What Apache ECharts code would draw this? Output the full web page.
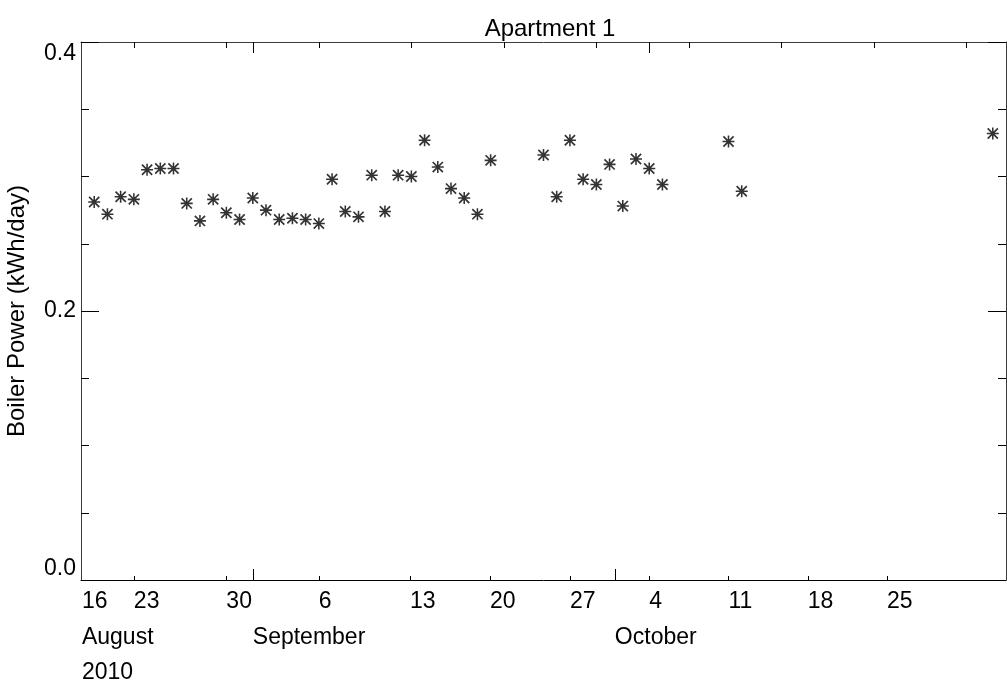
<!DOCTYPE html>
<html>
<head>
<meta charset="utf-8">
<title>Apartment 1</title>
<script src="https://cdn.jsdelivr.net/npm/echarts@6/dist/echarts.min.js"></script>
<style>
  html, body { margin: 0; padding: 0; background: #fff; }
  #chart { width: 1007px; height: 687px; }
</style>
</head>
<body>
<div id="chart"></div>
<script>
// Day numbers count from 1 August 2010 (1 Aug = 1, 1 Sep = 32, 1 Oct = 62).
const dayNumbers = [
  20, 21, 22, 23, 24, 25, 26, 27, 28, 29, 30, 31, 32, 33, 34, 35,
  36, 37, 38, 39, 40, 41, 42, 43, 44, 45, 46, 47, 48, 49, 50,
  54, 55, 56, 57, 58, 59, 60, 61, 62, 63,
  68, 69,
  88
];
// Daily boiler power, kWh/day
const boilerPower = [
  0.281, 0.272, 0.285, 0.283, 0.305, 0.306, 0.306, 0.280, 0.267, 0.283, 0.273, 0.268, 0.284, 0.275, 0.268, 0.269,
  0.268, 0.265, 0.298, 0.274, 0.270, 0.301, 0.274, 0.301, 0.300, 0.327, 0.307, 0.291, 0.284, 0.272, 0.312,
  0.316, 0.285, 0.327, 0.298, 0.294, 0.309, 0.278, 0.313, 0.306, 0.294,
  0.326, 0.289,
  0.332
];

// Lower date axis: day labels, month row and year row
const dayLabelDays   = [19.07, 23, 30, 37, 43.9, 49.95, 56, 62, 68, 74, 80];
const dayLabels      = ['16', '23', '30', '6', '13', '20', '27', '4', '11', '18', '25'];
const dayTickDays    = [23, 30, 37, 43.9, 49.95, 56, 62, 68, 74, 80];
const monthTickDays  = [32, 59.4];
const monthLabelDays = [19.07, 32, 59.4];
const monthLabels    = ['August', 'September', 'October'];
const yearLabelDays  = [19.07];
const yearLabels     = ['2010'];

// Upper frame: weekly ticks and month starts
const weekTickDays     = [23, 30, 37, 44, 51, 58, 65, 72, 79, 86];
const monthStartDays   = [32, 62];

const xMin = 19, xMax = 89;

const FONT = '"Liberation Sans", Arial, Helvetica, sans-serif';
const AXIS_COLOR = '#3c3c3c';

function labelFor(positions, labels) {
  return function (v) {
    const i = positions.findIndex(p => Math.abs(p - v) < 1e-6);
    return i >= 0 ? labels[i] : '';
  };
}

// Asterisk marker: horizontal, vertical and two diagonal strokes with a solid centre
const asterisk = 'path://M0 8.7H20V11.3H0Z M8.7 0H11.3V20H8.7Z ' +
  'M0.5 2.5L2.5 0.5L19.5 17.5L17.5 19.5Z M17.5 0.5L19.5 2.5L2.5 19.5L0.5 17.5Z ' +
  'M7 7H13V13H7Z';

const baseX = {
  type: 'value', gridIndex: 0, min: xMin, max: xMax,
  splitLine: { show: false },
  axisLine: { show: false, onZero: false },
  axisTick: { show: false },
  axisLabel: { show: false }
};

const chart = echarts.init(document.getElementById('chart'), null, { renderer: 'canvas' });

chart.setOption({
  animation: false,
  backgroundColor: '#ffffff',
  title: {
    text: 'Apartment 1',
    left: 545,
    top: 12,
    textAlign: 'center',
    textStyle: { fontFamily: FONT, fontSize: 24, fontWeight: 'normal', color: '#000' }
  },
  grid: { left: 81, right: 1, top: 42, bottom: 107, containLabel: false, outerBoundsMode: 'none' },
  xAxis: [
    // bottom: day numbers
    Object.assign({}, baseX, {
      position: 'bottom',
      axisLine: { show: true, onZero: false, lineStyle: { color: '#000', width: 1 } },
      axisTick: { show: true, inside: true, length: 4, customValues: dayTickDays, lineStyle: { color: '#000' } },
      axisLabel: {
        show: true, customValues: dayLabelDays, formatter: labelFor(dayLabelDays, dayLabels),
        align: 'left', margin: 10, fontFamily: FONT, fontSize: 23, color: '#000'
      }
    }),
    // bottom: month boundaries and month names
    Object.assign({}, baseX, {
      position: 'bottom',
      axisTick: { show: true, inside: true, length: 11, customValues: monthTickDays, lineStyle: { color: '#000' } },
      axisLabel: {
        show: true, customValues: monthLabelDays, formatter: labelFor(monthLabelDays, monthLabels),
        align: 'left', margin: 46, fontFamily: FONT, fontSize: 23, color: '#000'
      }
    }),
    // bottom: year
    Object.assign({}, baseX, {
      position: 'bottom',
      axisLabel: {
        show: true, customValues: yearLabelDays, formatter: labelFor(yearLabelDays, yearLabels),
        align: 'left', margin: 81, fontFamily: FONT, fontSize: 23, color: '#000'
      }
    }),
    // top frame: weekly ticks
    Object.assign({}, baseX, {
      position: 'top',
      axisLine: { show: true, onZero: false, lineStyle: { color: AXIS_COLOR, width: 1 } },
      axisTick: { show: true, inside: true, length: 6, customValues: weekTickDays, lineStyle: { color: '#000' } }
    }),
    // top frame: month starts
    Object.assign({}, baseX, {
      position: 'top',
      axisTick: { show: true, inside: true, length: 11, customValues: monthStartDays, lineStyle: { color: '#000' } }
    })
  ],
  yAxis: [
    {
      type: 'value', gridIndex: 0, position: 'left',
      min: 0, max: 0.4, interval: 0.2,
      name: 'Boiler Power (kWh/day)',
      nameLocation: 'middle', nameRotate: 90, nameGap: 52,
      nameTextStyle: { fontFamily: FONT, fontSize: 24, color: '#000' },
      splitLine: { show: false },
      axisLine: { show: true, onZero: false, lineStyle: { color: AXIS_COLOR, width: 1 } },
      axisTick: { show: true, inside: true, length: 18, lineStyle: { color: '#000' } },
      minorTick: { show: true, splitNumber: 4, length: 8, lineStyle: { color: '#000' } },
      axisLabel: {
        show: true, margin: 5,
        formatter: v => v.toFixed(1),
        verticalAlignMinLabel: 'bottom', verticalAlignMaxLabel: 'top',
        fontFamily: FONT, fontSize: 23, color: '#000'
      }
    },
    {
      type: 'value', gridIndex: 0, position: 'right',
      min: 0, max: 0.4, interval: 0.2,
      splitLine: { show: false },
      axisLine: { show: true, onZero: false, lineStyle: { color: AXIS_COLOR, width: 1 } },
      axisTick: { show: true, inside: true, length: 18, lineStyle: { color: '#000' } },
      minorTick: { show: true, splitNumber: 4, length: 8, lineStyle: { color: '#000' } },
      axisLabel: { show: false }
    }
  ],
  series: [{
    type: 'scatter',
    xAxisIndex: 0, yAxisIndex: 0,
    data: dayNumbers.map((d, i) => [d, boilerPower[i]]),
    symbol: asterisk,
    symbolSize: 12,
    itemStyle: { color: '#000' },
    silent: true
  }]
});
</script>
</body>
</html>
